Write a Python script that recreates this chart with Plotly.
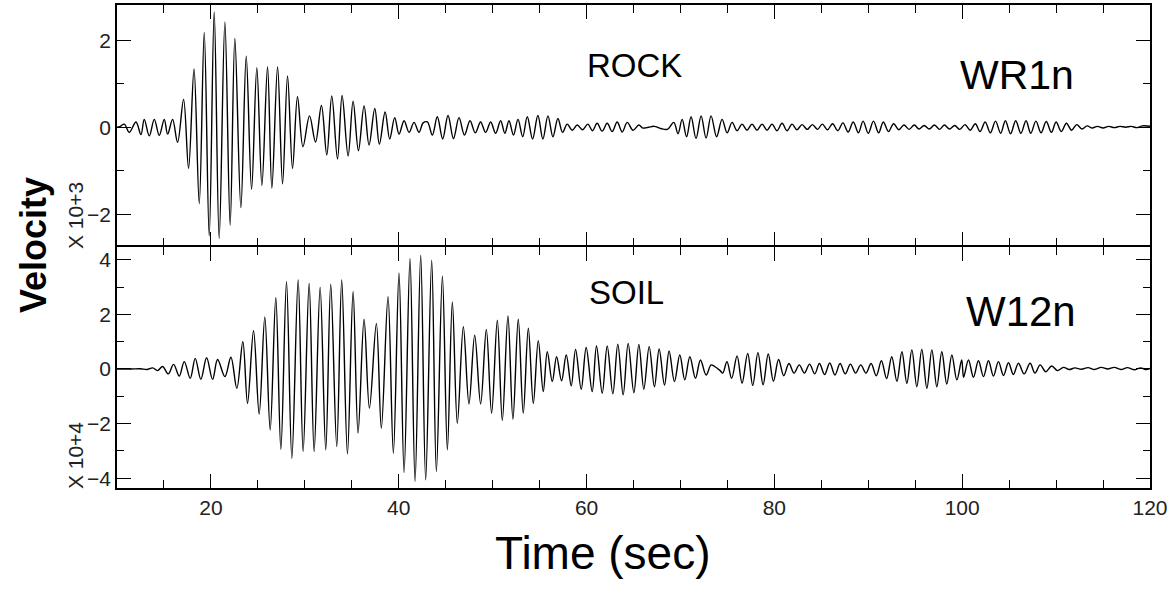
import plotly.graph_objects as go
from plotly.subplots import make_subplots

# ---------------- data: extrema of each trace (time s, velocity) ----------------
rock_t = [10.0, 10.35, 10.78, 11.31, 12.02, 12.55, 12.9, 13.44, 13.97, 14.5, 15.03, 15.39, 15.92, 16.45,
          17.09, 17.62, 18.2, 18.76, 19.29, 19.82, 20.35, 20.88, 21.49, 22.05, 22.55, 23.19, 23.76, 24.33,
          24.89, 25.43, 26.03, 26.49, 27.1, 27.63, 28.16, 28.69, 29.22, 29.8, 30.5, 31.14, 31.77, 32.34,
          32.87, 33.48, 33.97, 34.61, 35.14, 35.71, 36.31, 36.84, 37.45, 37.94, 38.55, 39.04, 39.57, 40.03,
          40.57, 41.1, 41.63, 42.16, 42.6,
          43.05, 43.58, 44.11, 44.68, 45.25, 45.83, 46.42, 47.0, 47.59, 48.15, 48.72, 49.25, 49.79, 50.32,
          50.85, 51.3, 51.74, 52.22, 52.7, 53.2, 53.69, 54.25, 54.82, 55.35, 55.89, 56.42, 56.95, 57.45,
          57.94, 58.48, 59.01, 59.57, 60.14, 60.63, 61.13, 61.66, 62.2, 62.73, 63.26, 63.8, 64.33, 64.95,
          65.57, 66.0, 66.6, 67.2, 67.9, 68.6, 69.29, 69.74, 70.18, 70.65, 71.13, 71.66, 72.2, 72.73,
          73.26, 73.85, 74.43, 74.97, 75.5, 76.03, 76.56, 77.09, 77.62, 78.15, 78.69, 79.22, 79.75, 80.28,
          80.82, 81.35, 81.88,
          82.4, 82.95, 83.5, 84.05, 84.6, 85.1, 85.65, 86.2, 86.75, 87.3, 87.85, 88.4, 88.95, 89.45, 90.0,
          90.55, 91.1, 91.6, 92.15, 92.7, 93.25, 93.8, 94.35, 94.9, 95.4, 95.95, 96.5, 97.05, 97.6, 98.1,
          98.65, 99.2, 99.75, 100.3, 100.85, 101.4, 101.9, 102.45, 103.0, 103.55, 104.1, 104.6, 105.15,
          105.7, 106.25, 106.8, 107.3, 107.85, 108.4, 108.95, 109.5, 110.0, 110.55, 111.1, 111.65, 112.2,
          112.75, 113.3, 113.85, 114.4, 115.0, 115.6, 116.2, 116.8, 117.4, 118.0, 118.6, 119.2, 120.0]
rock_v = [0.0, 0.02, 0.07, -0.12, 0.12, -0.17, 0.18, -0.2, 0.18, -0.19, 0.18, -0.16, 0.18, -0.35,
          0.64, -0.95, 1.34, -1.76, 2.18, -2.5, 2.65, -2.56, 2.42, -2.25, 2.04, -1.85, 1.63, -1.43,
          1.37, -1.34, 1.39, -1.40, 1.39, -1.3, 1.18, -0.95, 0.7, -0.45, 0.26, -0.34, 0.5, -0.64,
          0.72, -0.73, 0.73, -0.66, 0.6, -0.54, 0.49, -0.41, 0.43, -0.39, 0.35, -0.27, 0.22, -0.16,
          0.15, -0.12, 0.11, -0.12, 0.1,
          0.12, -0.18, 0.24, -0.27, 0.27, -0.26, 0.22, -0.18, 0.15, -0.13, 0.12, -0.12, 0.12, -0.14,
          0.15, -0.14, 0.15, -0.18, 0.18, -0.22, 0.24, -0.27, 0.27, -0.27, 0.26, -0.22, 0.2, -0.12,
          0.07, -0.07, 0.05, -0.06, 0.07, -0.08, 0.09, -0.09, 0.09, -0.1, 0.12, -0.11, 0.11, -0.07,
          0.05, -0.02, 0.0, 0.02, -0.03, -0.05, 0.11, -0.15, 0.18, -0.22, 0.24, -0.26, 0.26, -0.25,
          0.26, -0.22, 0.18, -0.13, 0.11, -0.08, 0.07, -0.07, 0.07, -0.07, 0.07, -0.07, 0.07, -0.08,
          0.09, -0.08, 0.07,
          -0.06, 0.06, -0.05, 0.06, -0.05, 0.07, -0.06, 0.08, -0.08, 0.1, -0.11, 0.12, -0.13, 0.14, -0.14,
          0.14, -0.13, 0.12, -0.1, 0.08, -0.06, 0.05, -0.05, 0.05, -0.04, 0.04, -0.04, 0.05, -0.05, 0.05,
          -0.04, 0.04, -0.05, 0.06, -0.07, 0.08, -0.1, 0.12, -0.13, 0.14, -0.14, 0.15, -0.15,
          0.15, -0.14, 0.15, -0.14, 0.14, -0.13, 0.13, -0.12, 0.12, -0.1, 0.09, -0.07, 0.06,
          -0.04, 0.03, -0.02, 0.02, -0.02, 0.02, -0.01, 0.02, 0.0, 0.02, -0.01, 0.03, 0.02]

soil_t = [10.0, 11.5, 12.5, 13.2, 13.8, 14.32, 14.86, 15.46, 16.03, 16.63, 17.16, 17.8, 18.33, 18.93,
          19.54, 20.18, 20.71, 21.49, 22.13, 22.76, 23.4, 23.9, 24.54, 25.14, 25.74, 26.31, 26.91, 27.45,
          28.05, 28.62, 29.29, 29.82, 30.46, 30.99, 31.63, 32.23, 32.76, 33.4, 33.93, 34.54, 35.14, 35.67,
          36.31, 36.88, 37.62, 38.15, 38.86, 39.43, 40.03, 40.57, 41.2, 41.74, 42.34, 42.87, 43.51, 44.01,
          44.65, 45.18, 45.71, 46.24, 46.88, 47.48, 48.09, 48.72, 49.33, 49.89, 50.5, 51.03, 51.63, 52.16,
          52.73, 53.26, 53.8, 54.33, 54.86, 55.39, 55.82, 56.35, 56.81, 57.34, 57.84, 58.37, 58.83, 59.43,
          59.96, 60.6, 61.06, 61.67, 62.2, 62.8, 63.33, 63.9, 64.43, 65.04, 65.57, 66.1, 66.67, 67.23,
          67.73, 68.3, 68.79, 69.36, 69.93, 70.46, 71.0, 71.6, 72.13, 72.73, 73.26, 73.6, 74.2, 74.5,
          74.95, 75.45, 76.03, 76.56, 77.16, 77.7, 78.25, 78.8, 79.35, 79.9, 80.45, 81.0, 81.55, 82.1,
          82.65, 83.2, 83.75, 84.3, 84.8, 85.35, 85.9, 86.45, 87.0, 87.55, 88.1, 88.65, 89.2, 89.75,
          90.3, 90.85, 91.4, 91.95, 92.5, 93.05, 93.58, 94.11, 94.64, 95.17, 95.7, 96.24, 96.77, 97.3,
          97.83, 98.36, 98.9, 99.43, 99.95, 100.15, 100.67, 101.2, 101.73, 102.27, 102.8, 103.33, 103.86,
          104.4, 104.93, 105.45, 105.99, 106.6, 107.23, 107.75, 108.3, 108.9, 109.53, 110.15, 110.78,
          111.4, 112.0, 112.7, 113.4, 114.1, 114.8, 115.5, 116.2, 116.9, 117.6, 118.3, 119.0, 119.6, 120.0]
soil_v = [0.0, 0.0, 0.01, -0.02, 0.04, -0.06, 0.09, -0.18, 0.17, -0.26, 0.27, -0.34, 0.39, -0.38,
          0.41, -0.38, 0.35, -0.28, 0.43, -0.71, 1.0, -1.26, 1.4, -1.65, 1.91, -2.23, 2.61, -2.94,
          3.2, -3.27, 3.26, -3.02, 3.13, -3.02, 2.99, -2.96, 3.11, -2.84, 3.26, -3.11, 2.83, -2.35,
          1.82, -1.44, 1.67, -2.17, 2.65, -3.09, 3.52, -3.79, 4.05, -4.12, 4.17, -4.06, 3.99, -3.76,
          3.40, -2.96, 2.46, -1.99, 1.55, -1.28, 1.24, -1.28, 1.45, -1.62, 1.79, -1.89, 1.94, -1.84,
          1.82, -1.62, 1.49, -1.26, 1.04, -0.83, 0.63, -0.46, 0.45, -0.43, 0.51, -0.62, 0.72, -0.74,
          0.79, -0.83, 0.84, -0.89, 0.84, -0.91, 0.91, -0.95, 0.94, -0.87, 0.9, -0.74, 0.82, -0.65,
          0.73, -0.59, 0.66, -0.46, 0.51, -0.4, 0.45, -0.34, 0.33, -0.22, 0.15, 0.1, -0.05, -0.15,
          0.27, -0.34, 0.48, -0.52, 0.57, -0.6, 0.6, -0.58, 0.55, -0.45, 0.35, -0.25, 0.2, -0.15,
          0.15, -0.15, 0.18, -0.18, 0.2, -0.2, 0.22, -0.22, 0.2, -0.18, 0.18, -0.15, 0.15, -0.15,
          0.2, -0.25, 0.3, -0.35, 0.45, -0.45, 0.63, -0.52, 0.7, -0.65, 0.72, -0.71, 0.7, -0.65,
          0.63, -0.55, 0.51, -0.4, 0.33, -0.3, 0.33, -0.3, 0.3, -0.28, 0.3, -0.26, 0.27,
          -0.24, 0.23, -0.2, 0.21, -0.18, 0.21, -0.15, 0.15, -0.1, 0.11, -0.06, 0.06,
          -0.02, 0.04, -0.01, 0.05, -0.02, 0.06, 0.0, 0.06, -0.02, 0.05, -0.03, 0.04, -0.02, 0.02]

x_ticks = [20, 40, 60, 80, 100, 120]
rock_yticks = [-2, 0, 2]
soil_yticks = [-4, -2, 0, 2, 4]

# ---------------- figure ----------------
fig = make_subplots(rows=2, cols=1, shared_xaxes=True, vertical_spacing=0)

line_style = dict(color="black", width=1.4, shape="spline", smoothing=1.0)
fig.add_trace(go.Scatter(x=rock_t, y=rock_v, mode="lines", line=line_style,
                         showlegend=False, hoverinfo="skip"), row=1, col=1)
fig.add_trace(go.Scatter(x=soil_t, y=soil_v, mode="lines", line=line_style,
                         showlegend=False, hoverinfo="skip"), row=2, col=1)

narrow = "Liberation Sans Narrow, Liberation Sans, Arial Narrow, Arial, sans-serif"
tick_font = dict(family=narrow, size=21, color="#222")

xcommon = dict(range=[10, 120], showline=True, linecolor="black", linewidth=1.5, mirror="ticks",
               ticks="inside", ticklen=14, tickwidth=1, tickcolor="black",
               tickvals=x_ticks, showgrid=False, zeroline=False,
               minor=dict(ticks="inside", ticklen=8, tickwidth=1, tickcolor="black", dtick=5,
                          tick0=0, showgrid=False),
               tickfont=tick_font)
ycommon = dict(showline=True, linecolor="black", linewidth=1.5, mirror="ticks",
               ticks="inside", ticklen=14, tickwidth=1, tickcolor="black",
               showgrid=False, zeroline=False,
               minor=dict(ticks="inside", ticklen=7, tickwidth=1, tickcolor="black", dtick=1,
                          tick0=0, showgrid=False),
               tickfont=tick_font)

fig.update_xaxes(**xcommon)
fig.update_xaxes(showticklabels=False, row=1, col=1)
fig.update_yaxes(**ycommon)
fig.update_yaxes(range=[-2.72, 2.81], tickvals=rock_yticks, row=1, col=1)
fig.update_yaxes(range=[-4.36, 4.47], tickvals=soil_yticks, row=2, col=1)

fig.update_layout(
    width=1171, height=589,
    margin=dict(l=117, r=21, t=5, b=101, autoexpand=False),
    paper_bgcolor="white", plot_bgcolor="white",
    font=dict(family="Liberation Sans, Arial, sans-serif", color="black"),
)
# panel domains (top panel lifted by the line width so the shared border is a single line)
fig.update_layout(yaxis=dict(domain=[0.5021, 1.0]), yaxis2=dict(domain=[0.0, 0.499]))

common = dict(showarrow=False, xanchor="center", yanchor="middle")
ann = []
ann.append(dict(text="X 10+3", xref="paper", yref="paper", x=-0.0407, y=0.565, textangle=-90,
                font=dict(family=narrow, size=21, color="#222"), **common))
ann.append(dict(text="X 10+4", xref="paper", yref="paper", x=-0.0407, y=0.068, textangle=-90,
                font=dict(family=narrow, size=21, color="#222"), **common))
ann.append(dict(text="<b>Velocity</b>", xref="paper", yref="paper", x=-0.0813, y=0.503, textangle=-90,
                font=dict(size=36, color="black"), **common))
ann.append(dict(text="Time (sec)", xref="paper", yref="paper", x=0.4705, y=-0.1346,
                font=dict(size=46, color="black"), **common))
ann.append(dict(text="ROCK", xref="x", yref="y", x=65.1, y=1.42,
                font=dict(size=33, color="black"), **common))
ann.append(dict(text="WR1n", xref="x", yref="y", x=105.85, y=1.21,
                font=dict(size=41, color="black"), **common))
ann.append(dict(text="SOIL", xref="x2", yref="y2", x=64.26, y=2.82,
                font=dict(size=33, color="black"), **common))
ann.append(dict(text="W12n", xref="x2", yref="y2", x=106.3, y=2.09,
                font=dict(size=42, color="black"), **common))
fig.update_layout(annotations=ann)

fig.write_html("out.html", config={"displayModeBar": False},
               post_script="document.body.style.margin='0px';")
